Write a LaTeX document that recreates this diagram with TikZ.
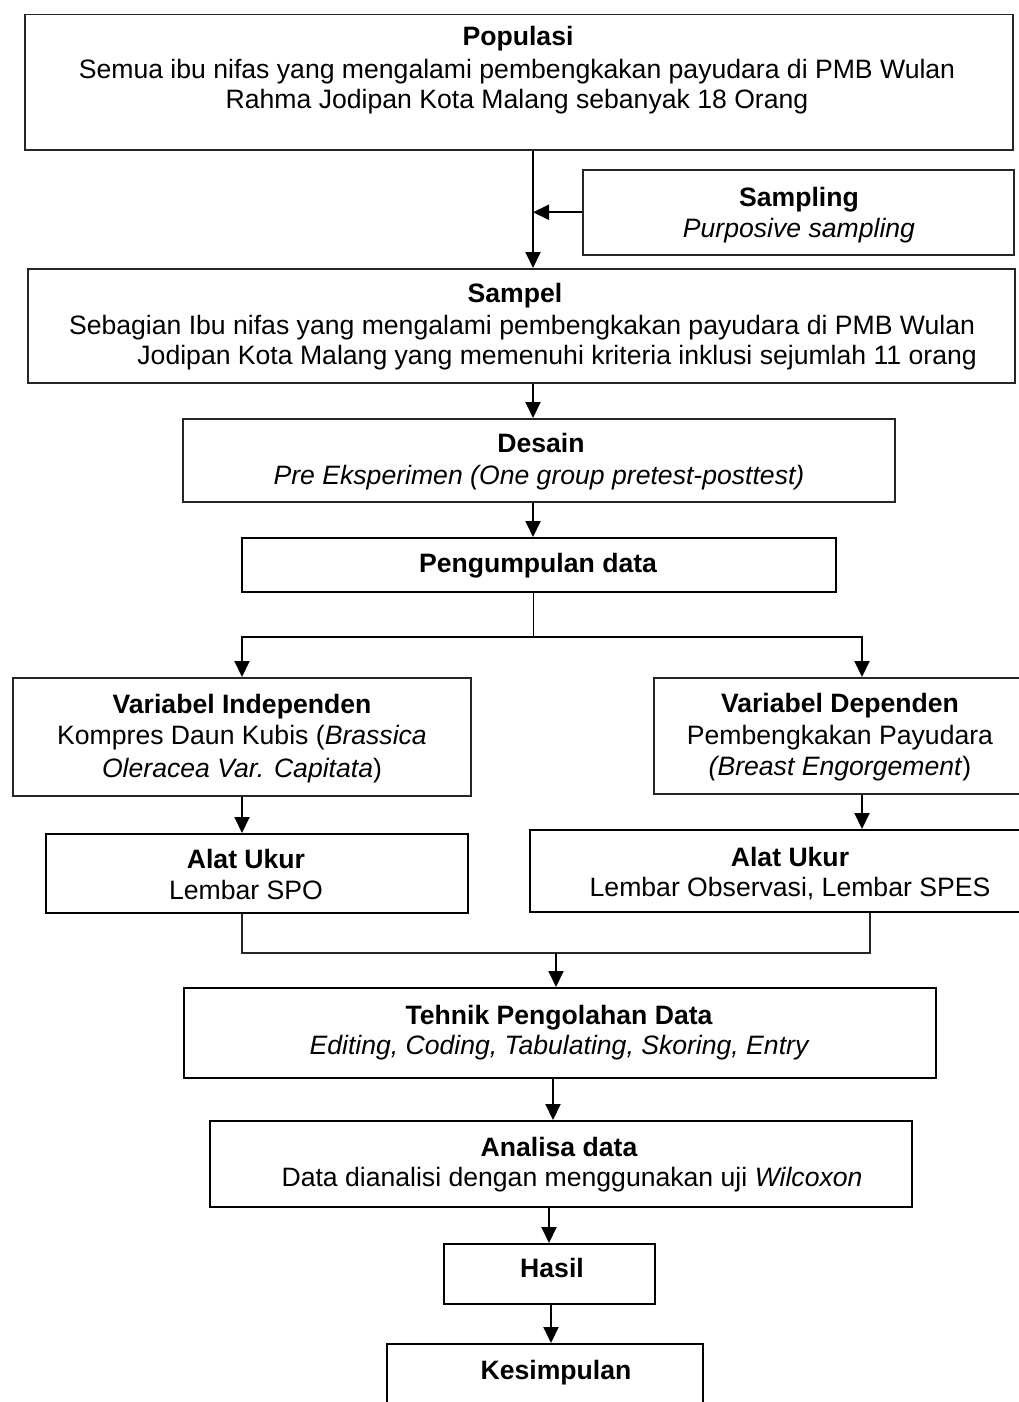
\documentclass[tikz,border=0pt]{standalone}
\usepackage{fontspec}
\setmainfont{Liberation Sans}
\usetikzlibrary{arrows.meta}
\begin{document}
\begin{tikzpicture}[x=1pt,y=-1pt,
  box/.style={draw=black!85, line width=1.5pt, anchor=north west, inner sep=0pt},
  txt/.style={inner sep=0pt, anchor=base, font=\fontsize{26.6}{31}\selectfont},
  ttl/.style={txt, font=\fontsize{26.6}{31}\selectfont\bfseries},
  arr/.style={line width=2pt, -{Triangle[length=16pt,width=15pt]}},
  ln/.style={line width=1.5pt, draw=black!85}]
\useasboundingbox (0,0) rectangle (1018,1402);

% boxes
\node[box, minimum width=988pt, minimum height=135pt] (pop) at (24,14) {};
\node[box, minimum width=431pt, minimum height=85pt] (samp) at (582,169) {};
\node[box, minimum width=987pt, minimum height=114pt] (sampel) at (27,268) {};
\node[box, minimum width=712pt, minimum height=83pt] (desain) at (182,418) {};
\node[box, minimum width=594pt, minimum height=54pt, draw=black] (kumpul) at (241,537) {};
\node[box, minimum width=458pt, minimum height=118pt] (vind) at (12,677) {};
\node[box, minimum width=380pt, minimum height=116pt] (vdep) at (653,677) {};
\node[box, minimum width=422pt, minimum height=79pt, draw=black] (alat1) at (45,833) {};
\node[box, minimum width=500pt, minimum height=82pt, draw=black] (alat2) at (529,829) {};
\node[box, minimum width=752pt, minimum height=90pt, draw=black] (tehnik) at (183,987) {};
\node[box, minimum width=702pt, minimum height=86pt, draw=black] (analisa) at (209,1120) {};
\node[box, minimum width=211pt, minimum height=60pt, draw=black] (hasil) at (443,1243) {};
\node[box, minimum width=316pt, minimum height=90pt, draw=black] (kesim) at (386,1343) {};

% texts
\node[ttl] (popT) at (518,46) {Populasi};
\node[txt] (popL1) at (517,79) {Semua ibu nifas yang mengalami pembengkakan payudara di PMB Wulan};
\node[txt] (popL2) at (517,109) {Rahma Jodipan Kota Malang sebanyak 18 Orang};

\node[ttl] (sampT) at (799,206) {Sampling};
\node[txt] (sampL) at (799,237) {\itshape Purposive sampling};

\node[ttl] (sampelT) at (515,302) {Sampel};
\node[txt] (sampelL1) at (522,334) {Sebagian Ibu nifas yang mengalami pembengkakan payudara di PMB Wulan};
\node[txt, anchor=base east] (sampelL2) at (977,364) {Jodipan Kota Malang yang memenuhi kriteria inklusi sejumlah 11 orang};

\node[ttl] (desT) at (541,452) {Desain};
\node[txt] (desL) at (539,484) {\itshape Pre Eksperimen (One group pretest-posttest)};

\node[ttl] (kumT) at (538,572) {Pengumpulan data};

\node[ttl] (vindT) at (242,713) {Variabel Independen};
\node[txt] (vindL1) at (242,744) {Kompres Daun Kubis (\textit{Brassica}};
\node[txt] (vindL2) at (242,777) {\textit{Oleracea Var. Capitata})};

\node[ttl] (vdepT) at (840,712) {Variabel Dependen};
\node[txt] (vdepL1) at (840,744) {Pembengkakan Payudara};
\node[txt] (vdepL2) at (840,775) {\textit{(Breast Engorgement})};

\node[ttl] (a1T) at (246,868) {Alat Ukur};
\node[txt] (a1L) at (246,899) {Lembar SPO};

\node[ttl] (a2T) at (790,866) {Alat Ukur};
\node[txt] (a2L) at (790,896) {Lembar Observasi, Lembar SPES};

\node[ttl] (tehT) at (559,1024) {Tehnik Pengolahan Data};
\node[txt] (tehL) at (559,1054) {\itshape Editing, Coding, Tabulating, Skoring, Entry};

\node[ttl] (anaT) at (559,1156) {Analisa data};
\node[txt] (anaL) at (572,1186) {Data dianalisi dengan menggunakan uji \textit{Wilcoxon}};

\node[ttl] (hasT) at (552,1277) {Hasil};
\node[ttl] (kesT) at (556,1379) {Kesimpulan};

% helper coordinates
\coordinate (sp) at (533,0);
\coordinate (split) at (533,637);
\coordinate (lx) at (242,0);
\coordinate (rx) at (862,0);
\coordinate (mr) at (870,0);
\coordinate (m) at (556,953);
\coordinate (c2) at (553,0);
\coordinate (c3) at (549,0);
\coordinate (c4) at (551,0);

% connectors
\draw[arr] (sp |- pop.south) -- (sp |- sampel.north);
\draw[arr] (samp.west) -- (samp.west -| sp);
\draw[arr] (sp |- sampel.south) -- (sp |- desain.north);
\draw[arr] (sp |- desain.south) -- (sp |- kumpul.north);
\draw[line width=1pt] (sp |- kumpul.south) -- (split);
\draw[arr] (split) -| (lx |- vind.north);
\draw[arr] (split) -| (rx |- vdep.north);
\draw[arr] (lx |- vind.south) -- (lx |- alat1.north);
\draw[arr] (rx |- vdep.south) -- (rx |- alat2.north);
\draw[ln] (lx |- alat1.south) -- (lx |- m) -- (mr |- m) -- (mr |- alat2.south);
\draw[arr] (m) -- (m |- tehnik.north);
\draw[arr] (c2 |- tehnik.south) -- (c2 |- analisa.north);
\draw[arr] (c3 |- analisa.south) -- (c3 |- hasil.north);
\draw[arr] (c4 |- hasil.south) -- (c4 |- kesim.north);
\end{tikzpicture}
\end{document}
